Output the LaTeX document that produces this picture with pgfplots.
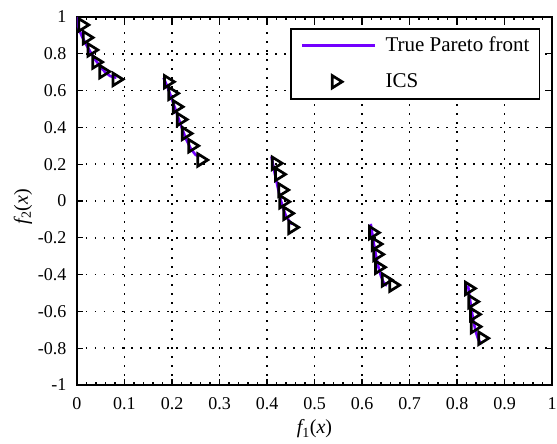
\documentclass[border=0pt]{standalone}
\usepackage{fontspec}
\setmainfont{Liberation Serif}
\usepackage{pgfplots}
\pgfplotsset{compat=1.18}
\definecolor{pf}{RGB}{115,0,255}
\pgfdeclareplotmark{rtri}{%
  \pgfpathmoveto{\pgfpoint{0pt}{\pgfplotmarksize}}%
  \pgfpathlineto{\pgfpoint{1.6\pgfplotmarksize}{0pt}}%
  \pgfpathlineto{\pgfpoint{0pt}{-\pgfplotmarksize}}%
  \pgfpathclose
  \pgfusepathqstroke}
\pgfplotsset{
  lineleg/.style={legend image code/.code={\draw[##1] (0pt,0pt) -- (73pt,0pt);}},
  markleg/.style={legend image code/.code={\draw[##1] plot coordinates {(30pt,0pt)};}}
}
\begin{document}
\begin{tikzpicture}
\path[use as bounding box] (0pt,0pt) rectangle (557pt,444pt);
\begin{axis}[
  at={(77pt,59pt)}, anchor=south west,
  width=475pt, height=368pt, scale only axis,
  xmin=0, xmax=1, ymin=-1, ymax=1,
  xtick={0,0.1,0.2,0.3,0.4,0.5,0.6,0.7,0.8,0.9,1},
  ytick={-1,-0.8,-0.6,-0.4,-0.2,0,0.2,0.4,0.6,0.8,1},
  minor x tick num=4,
  tick align=inside, tick pos=both,
  major tick length=6pt, minor tick length=3pt,
  every tick/.style={black, line width=1.2pt},
  axis line style={line width=2pt},
  grid=major,
  major grid style={black, line width=1.5pt, dash pattern=on 1.5pt off 7.5pt},
  /pgf/number format/assume math mode=true,
  ticklabel style={font=\fontsize{18}{21}\selectfont},
  xticklabel style={yshift=-9pt},
  yticklabel style={xshift=-7pt},
  xlabel={{\itshape f}\textsubscript{1}({\itshape x})},
  ylabel={{\itshape f}\textsubscript{2}({\itshape x})},
  label style={font=\fontsize{20}{23}\selectfont},
  xlabel style={at={(axis description cs:0.5,-0.1196)}, anchor=center},
  ylabel style={at={(axis description cs:-0.114,0.485)}, anchor=center},
  legend style={at={(0.975,0.97)}, anchor=north east, draw=black, line width=1.5pt,
    font=\fontsize{21}{24}\selectfont, inner xsep=10pt, inner ysep=5pt,
    row sep=12pt, column sep=9pt,
    nodes={inner sep=0pt, text height=18pt, text depth=6pt}},
  legend cell align=left,
]
\addplot[pf, line width=2.6pt, unbounded coords=jump, lineleg]
  coordinates {
  (0,1) (0.001,0.9684) (0.0025,0.9498) (0.005,0.9285) (0.01,0.8969) (0.02,0.8468)
  (0.03,0.8025) (0.04,0.7620) (0.05,0.7264) (0.06,0.6980) (0.07,0.6788) (0.083,0.6697)
  (0.13,nan)
  (0.1822,0.6696) (0.19,0.6228) (0.20,0.5528) (0.21,0.4769) (0.22,0.4017)
  (0.23,0.3344) (0.24,0.2819) (0.25,0.2500) (0.2578,0.2422)
  (0.33,nan)
  (0.4093,0.2422) (0.415,0.1674) (0.42,0.1051) (0.425,0.0476) (0.43,-0.0036)
  (0.435,-0.0471) (0.44,-0.0818) (0.45,-0.1208) (0.4539,-0.1242)
  (0.53,nan)
  (0.6184,-0.1242) (0.62,-0.1518) (0.625,-0.2325) (0.63,-0.3034) (0.635,-0.3627)
  (0.64,-0.4087) (0.645,-0.4402) (0.65,-0.4562) (0.6525,-0.4583)
  (0.73,nan)
  (0.8233,-0.4583) (0.825,-0.4917) (0.83,-0.5825) (0.835,-0.6578) (0.84,-0.7154)
  (0.845,-0.7539) (0.85,-0.7720) (0.8518,-0.7733)
  };
\addlegendentry{True Pareto front}
\addplot[only marks, mark=rtri, mark size=6.2pt, black, line width=2.7pt,
  mark options={line join=miter}, markleg]
  coordinates {
  (0.004,0.957) (0.013,0.888) (0.023,0.821) (0.033,0.755) (0.048,0.703) (0.076,0.661)
  (0.184,0.648) (0.193,0.585) (0.2025,0.512) (0.211,0.443) (0.2214,0.367) (0.2353,0.300) (0.2543,0.223)
  (0.411,0.205) (0.418,0.145) (0.4248,0.060) (0.427,-0.004) (0.4353,-0.067) (0.4458,-0.143)
  (0.6157,-0.172) (0.6214,-0.234) (0.6248,-0.290) (0.6284,-0.360) (0.6425,-0.429) (0.6585,-0.457)
  (0.8178,-0.475) (0.8248,-0.547) (0.8284,-0.616) (0.8298,-0.683) (0.8458,-0.746)
  };
\addlegendentry{ICS}
\end{axis}
\end{tikzpicture}
\end{document}
